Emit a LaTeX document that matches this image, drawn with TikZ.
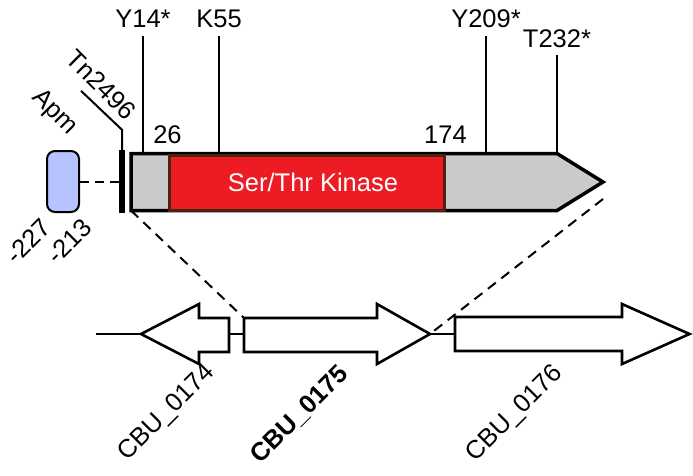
\documentclass[tikz,border=0pt]{standalone}
\usepackage{fontspec}
\setmainfont{Liberation Sans}
\usepackage{xcolor}
\usepackage{tikz}
\usetikzlibrary{positioning}

\definecolor{protgray}{HTML}{CACACA}
\definecolor{kinred}{HTML}{ED1C24}
\definecolor{kinbrown}{HTML}{4B2410}
\definecolor{apmblue}{HTML}{B7C3FF}

\begin{document}
\begin{tikzpicture}[x=1pt, y=-1pt, every node/.style={font=\fontsize{25.5}{30}\selectfont, inner sep=2pt}, tick/.style={line width=2pt}, zoomline/.style={line width=2pt, dash pattern=on 10pt off 7pt}, gene/.style={draw, line width=2.6pt, fill=white, line join=miter}, kinase/.style={draw=kinbrown, fill=kinred, line width=3pt, text=white, inner sep=0pt, minimum width=275pt, minimum height=55pt}, apm/.style={draw, fill=apmblue, line width=2pt, rounded corners=8pt, minimum width=32pt, minimum height=61pt}]
\useasboundingbox (0,0) rectangle (693,475);
% protein
\draw[line width=3.5pt, fill=protgray] (131,153.5) coordinate (pnw) -- (557,153.5) -- (603,182) coordinate (ptip) -- (557,210.5) -- (131,210.5) coordinate (psw) -- cycle;
\node[kinase] (kin) at (306.5,182.5) {\hspace*{13pt}Ser/Thr Kinase};
\node[above=8pt of kin.north west] (n26) {26};
\node[above=8pt of kin.north east] (n174) {174};
% sites
\draw[tick] (143,153.5) coordinate (y14) -- ++(0,-117.5) coordinate (y14end);
\node[above=6pt of y14end] (y14lab) {Y14*};
\draw[tick] (219,153.5) coordinate (k55) -- ++(0,-117.5) coordinate (k55end);
\node[above=6pt of k55end] (k55lab) {K55};
\draw[tick] (486,153.5) coordinate (y209) -- ++(0,-117.5) coordinate (y209end);
\node[above=6pt of y209end] (y209lab) {Y209*};
\draw[tick] (557,153.5) coordinate (t232) -- ++(0,-98.5) coordinate (t232end);
\node[above=5pt of t232end] (t232lab) {T232*};
% Tn2496 and Apm
\node[fill=black, inner sep=0pt, minimum width=6pt, minimum height=63pt] (tn) at (122,181.5) {};
\draw[tick] (tn.north) -- ++(0,-20) coordinate (tnbend) -- ++(-41,-39) coordinate (tnend);
\node[rotate=-45] (tnlab) at (101,85) {Tn2496};
\node[apm] (apm) at (63,181.5) {};
\draw[line width=2pt, dash pattern=on 9pt off 6pt] (apm) -- (tn);
\node[rotate=-45] (apmlab) at (54,113) {Apm};
\node[rotate=45] (m227) at (28,241) {-227};
\node[rotate=45] (m213) at (69,241) {-213};
% genes
\coordinate (start) at (96,334);
\draw[gene] (141,334) coordinate (g174tip) -- (199,304) -- (199,318) -- (229,318) -- (229,352) coordinate (g174end) -- (199,352) -- (199,364) -- cycle;
\draw[gene] (244,318) coordinate (g175nw) -- (377,318) -- (377,304) -- (430,334) coordinate (g175tip) -- (377,364) -- (377,352) -- (244,352) coordinate (g175sw) -- cycle;
\draw[gene] (455,317) coordinate (g176nw) -- (622,317) -- (622,304) -- (689.5,334) coordinate (g176tip) -- (622,364) -- (622,351) -- (455,351) coordinate (g176sw) -- cycle;
\draw[line width=2.6pt] (start) -- (g174tip);
\draw[line width=2.6pt] (g174end |- start) -- (g175nw |- start);
\draw[line width=2.6pt] (g175tip) -- (g176nw |- start);
\node[rotate=45] (c174) at (167,413) {CBU\_0174};
\node[rotate=45] (c175) at (300,415) {\bfseries CBU\_0175};
\node[rotate=45] (c176) at (515,414) {CBU\_0176};
% zoom lines
\draw[zoomline] (psw) -- (g175nw);
\draw[zoomline] ([yshift=-17pt]ptip) -- (g175tip);
\end{tikzpicture}
\end{document}
